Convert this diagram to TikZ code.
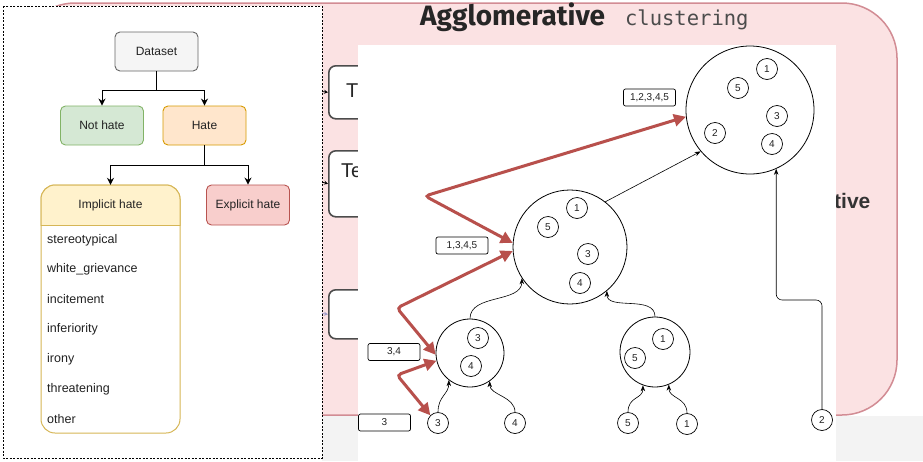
\documentclass[tikz,border=0pt]{standalone}
\usepackage{fontspec}
\setmainfont{Liberation Sans}
\newfontfamily\titlefont{Fira Sans}
\newfontfamily\titlemono{DejaVu Sans Mono}
\usepackage{xcolor}
\usepackage{tikz}
\usetikzlibrary{positioning,arrows.meta}

\definecolor{pinkbg}{RGB}{251,226,227}
\definecolor{pinkline}{RGB}{210,140,148}
\definecolor{greyband}{RGB}{243,243,243}
\definecolor{dsfill}{RGB}{245,245,245}
\definecolor{dsline}{RGB}{102,102,102}
\definecolor{nhfill}{RGB}{213,232,212}
\definecolor{nhline}{RGB}{130,179,102}
\definecolor{hfill}{RGB}{255,230,204}
\definecolor{hline}{RGB}{215,155,0}
\definecolor{ifill}{RGB}{255,242,204}
\definecolor{iline}{RGB}{214,182,86}
\definecolor{efill}{RGB}{248,206,204}
\definecolor{eline}{RGB}{184,84,80}
\definecolor{redpath}{RGB}{184,80,76}
\definecolor{darktext}{RGB}{34,34,34}

\begin{document}
\begin{tikzpicture}[x=1pt, y=-1pt,
  flowbox/.style={rectangle, draw, rounded corners=5pt, line width=0.9pt, minimum width=83pt, minimum height=39pt, font=\fontsize{12}{14}\selectfont, text=darktext},
  listitem/.style={anchor=west, inner sep=0pt, font=\fontsize{12.5}{15}\selectfont, text=darktext},
  flowarrow/.style={-{Stealth[length=7pt,width=7pt]}, line width=1pt},
  backbox/.style={rectangle, draw=black!70, fill=white, line width=1.6pt, rounded corners=7pt, anchor=north west, minimum width=80pt},
  bigcircle/.style={circle, draw, line width=0.8pt, inner sep=0pt},
  leafnode/.style={circle, draw, line width=0.7pt, minimum size=21pt, inner sep=0pt, font=\fontsize{10}{12}\selectfont, text=darktext},
  grouptag/.style={rectangle, draw, rounded corners=2pt, line width=0.7pt, minimum width=52pt, minimum height=17pt, inner sep=0pt, font=\fontsize{10}{12}\selectfont, text=darktext},
  treearrow/.style={-{Stealth[length=6pt,width=4.5pt]}, line width=0.6pt},
  redarrow/.style={{Triangle[length=12pt,width=12pt]}-{Triangle[length=12pt,width=12pt]}, draw=redpath, line width=3pt, rounded corners=4pt}]
\useasboundingbox (0,0) rectangle (923,461);

% pasted slide behind
\fill[greyband] (322,416) rectangle (923,461);
\draw[draw=pinkline, fill=pinkbg, line width=1.5pt, rounded corners=55pt] (20,3) rectangle (897,415);

\node[backbox, minimum height=53pt] (tbox1) at (328,65) {};
\node[backbox, minimum height=66pt] (tbox2) at (328,150) {};
\node[backbox, minimum height=49pt] (tbox3) at (328,289) {};
\node[anchor=west, inner sep=0pt, font=\fontsize{20}{24}\selectfont, text=black!85] (tlabel1) at (346,91) {T};
\node[anchor=west, inner sep=0pt, font=\fontsize{20}{24}\selectfont, text=black!85] (tlabel2) at (341,171) {Te};
\coordinate (in1) at (322,91.5);
\coordinate (in2) at (322,182);
\coordinate (in3) at (322,313.5);
\draw[-{Stealth[length=4pt,width=4pt]}, line width=0.8pt] (in1) -- (tbox1.west);
\draw[-{Stealth[length=4pt,width=4pt]}, line width=0.8pt] (in2) -- (tbox2.west);
\draw[-{Stealth[length=4pt,width=4pt]}, line width=0.8pt, draw=blue!30!gray!60] (in3) -- (tbox3.west);

\node[anchor=west, inner sep=0pt, font=\bfseries\fontsize{21}{25}\selectfont, text=black!80] (tive) at (834,201) {tive};
\node[anchor=base west, inner sep=0pt, text=black!85] (title) at (420,25) {{\titlefont\bfseries\fontsize{28}{32}\selectfont Agglomerative}\hspace{20pt}{\titlemono\fontsize{20.5}{24}\selectfont\color{black!70}clustering}};

% tree picture
\fill[white] (358,45) rectangle (836,461);

\node[bigcircle, minimum size=128pt] (c1) at (750,110) {};
\node[bigcircle, minimum size=114pt] (c2) at (570,247) {};
\node[bigcircle, minimum size=68pt] (c3) at (470,353) {};
\node[bigcircle, minimum size=70pt] (c4) at (655,352) {};

\node[leafnode] (c1n1) at (767,69) {1};
\node[leafnode] (c1n5) at (738,88) {5};
\node[leafnode] (c1n3) at (777,116) {3};
\node[leafnode] (c1n2) at (715,133) {2};
\node[leafnode] (c1n4) at (772,144) {4};
\node[leafnode] (c2n1) at (577,208) {1};
\node[leafnode] (c2n5) at (548,227) {5};
\node[leafnode] (c2n3) at (588,254) {3};
\node[leafnode] (c2n4) at (580,283) {4};
\node[leafnode] (c3n3) at (478,338) {3};
\node[leafnode] (c3n4) at (471,366) {4};
\node[leafnode] (c4n1) at (663,339) {1};
\node[leafnode] (c4n5) at (635,358) {5};

\node[leafnode] (l3) at (438,423) {3};
\node[leafnode] (l4) at (515,423) {4};
\node[leafnode] (l5) at (628,423) {5};
\node[leafnode] (l1) at (687,424) {1};
\node[leafnode] (l2) at (822,420) {2};

\node[grouptag] (t12345) at (649.5,97.5) {1,2,3,4,5};
\node[grouptag] (t1345) at (462,245.5) {1,3,4,5};
\node[grouptag] (t34) at (394,352) {3,4};
\node[grouptag] (t3) at (384.5,422.5) {3};

\draw[treearrow] (l3.north) .. controls +(0,-16) and +(0,14) .. (c3.232);
\draw[treearrow] (l4.north) .. controls +(0,-16) and +(0,14) .. (c3.-55);
\draw[treearrow] (l5.north) .. controls +(0,-16) and +(0,14) .. (c4.250);
\draw[treearrow] (l1.north) .. controls +(0,-16) and +(0,14) .. (c4.-67);
\draw[treearrow] (c3.north) .. controls +(0,-25) and +(0,25) .. (c2.213);
\draw[treearrow] (c4.north) .. controls +(0,-22) and +(0,20) .. (c2.-50);
\draw[treearrow] (c2.52) -- (c1.220);
\draw[treearrow, rounded corners=6pt] (l2.north) -- (l2.north |- 0,300) -| (c1.-66);

\coordinate (kA) at (425,196);
\coordinate (kB) at (397,308);
\coordinate (kC) at (397,375);
\draw[redarrow] (c2.176) -- (kA) -- (c1.186);
\draw[redarrow] (c2.184) -- (kB) -- (c3.183);
\draw[redarrow] (c3.193) -- (kC) -- (l3.135);

% dataset taxonomy
\draw[dash pattern=on 2pt off 1.5pt, fill=white, line width=0.6pt] (3,6) rectangle (322,458);

\node[flowbox, draw=dsline, fill=dsfill] (dataset) at (156.5,51.5) {Dataset};
\node[flowbox, draw=nhline, fill=nhfill] (nothate) at (102,125.5) {Not hate};
\node[flowbox, draw=hline, fill=hfill] (hate) at (204.5,125.5) {Hate};
\node[flowbox, draw=eline, fill=efill, minimum height=40pt] (explicit) at (248,205) {Explicit hate};

\node[draw=iline, fill=white, line width=1pt, rounded corners=14pt, minimum width=139pt, minimum height=248pt] (implbox) at (110.5,309) {};
\begin{scope}
\clip (30,180) rectangle (190,225);
\draw[draw=iline, fill=ifill, line width=1pt, rounded corners=14pt] (41,185) rectangle (180,433);
\end{scope}
\draw[draw=iline, line width=1pt] (41,225) -- (180,225);
\node[minimum width=139pt, minimum height=40pt, font=\fontsize{12}{14}\selectfont, text=darktext] (implicit) at (110.5,205) {Implicit hate};

\node[listitem] (item1) at (47,240) {stereotypical};
\node[listitem] (item2) at (47,269.5) {white\_grievance};
\node[listitem] (item3) at (47,299.5) {incitement};
\node[listitem] (item4) at (47,329) {inferiority};
\node[listitem] (item5) at (47,359) {irony};
\node[listitem] (item6) at (47,389) {threatening};
\node[listitem] (item7) at (47,419) {other};

\draw[flowarrow] (dataset.south) -- ++(0,19) -| (nothate.north);
\draw[flowarrow] (dataset.south) -- ++(0,19) -| (hate.north);
\draw[flowarrow] (hate.south) -- ++(0,20) -| (implicit.north);
\draw[flowarrow] (hate.south) -- ++(0,20) -| (explicit.north);
\end{tikzpicture}
\end{document}
